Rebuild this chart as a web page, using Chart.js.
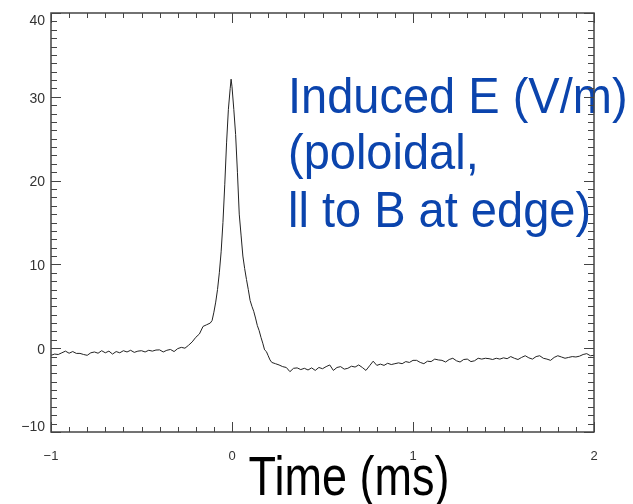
<!DOCTYPE html>
<html>
<head>
<meta charset="utf-8">
<script src="https://cdn.jsdelivr.net/npm/chart.js@4/dist/chart.umd.min.js"></script>
<style>
  html, body { margin: 0; padding: 0; background: #fff; }
  #wrap { width: 633px; height: 504px; }
</style>
</head>
<body>
<div id="wrap"><canvas id="chart" width="633" height="504"></canvas></div>
<script>
// time axis (ms) and induced field (V/m)
const times = [
  -1.00, -0.98, -0.96, -0.94, -0.92, -0.90, -0.88, -0.86, -0.84, -0.82,
  -0.80, -0.78, -0.76, -0.74, -0.72, -0.70, -0.68, -0.66, -0.64, -0.62,
  -0.60, -0.58, -0.56, -0.54, -0.52, -0.50, -0.48, -0.46, -0.44, -0.42,
  -0.40, -0.38, -0.36, -0.34, -0.32, -0.30, -0.28, -0.26, -0.24, -0.22,
  -0.20, -0.18, -0.16, -0.14, -0.12, -0.11, -0.10, -0.09, -0.08, -0.07,
  -0.06, -0.05, -0.04, -0.03, -0.02, -0.01, -0.005, 0.00, 0.01, 0.02,
  0.03, 0.04, 0.05, 0.06, 0.07, 0.08, 0.09, 0.10, 0.11, 0.12,
  0.13, 0.14, 0.15, 0.16, 0.17, 0.18, 0.19, 0.20, 0.21, 0.22,
  0.24, 0.26, 0.28, 0.30, 0.32, 0.34, 0.36, 0.38, 0.40, 0.42,
  0.44, 0.46, 0.48, 0.50, 0.52, 0.54, 0.56, 0.58, 0.60, 0.62,
  0.64, 0.66, 0.68, 0.70, 0.72, 0.74, 0.76, 0.78, 0.80, 0.82,
  0.84, 0.86, 0.88, 0.90, 0.92, 0.94, 0.96, 0.98, 1.00, 1.02,
  1.04, 1.06, 1.08, 1.10, 1.12, 1.14, 1.16, 1.18, 1.20, 1.22,
  1.24, 1.26, 1.28, 1.30, 1.32, 1.34, 1.36, 1.38, 1.40, 1.42,
  1.44, 1.46, 1.48, 1.50, 1.52, 1.54, 1.56, 1.58, 1.60, 1.62,
  1.64, 1.66, 1.68, 1.70, 1.72, 1.74, 1.76, 1.78, 1.80, 1.82,
  1.84, 1.86, 1.88, 1.90, 1.92, 1.94, 1.96, 1.98, 2.00
];
const eField = [
  -0.85, -0.70, -0.75, -0.55, -0.35, -0.60, -0.40, -0.62, -0.62, -0.75,
  -0.85, -0.55, -0.45, -0.60, -0.30, -0.55, -0.35, -0.70, -0.40, -0.55,
  -0.30, -0.45, -0.25, -0.50, -0.35, -0.30, -0.45, -0.25, -0.35, -0.22,
  -0.20, -0.45, -0.25, -0.15, -0.40, -0.05, 0.10, 0.00, 0.35, 0.75,
  1.30, 1.70, 2.60, 2.80, 3.00, 3.30, 4.30, 5.50, 7.00, 9.00,
  11.5, 15.0, 19.5, 24.5, 28.5, 31.0, 32.1, 31.2, 28.5, 25.5,
  21.0, 16.0, 13.5, 11.0, 9.5, 8.2, 7.0, 5.7, 5.0, 4.4,
  3.6, 2.7, 2.1, 1.3, 0.6, -0.2, -0.4, -0.9, -1.4, -1.7,
  -1.85, -2.0, -2.2, -2.3, -2.8, -2.4, -2.35, -2.55, -2.4, -2.6,
  -2.35, -2.65, -2.3, -2.45, -2.2, -2.0, -2.65, -2.3, -2.2, -2.5,
  -2.4, -2.15, -2.25, -2.0, -2.3, -2.65, -2.1, -1.55, -2.05, -1.9,
  -2.05, -1.8, -1.95, -1.85, -1.75, -1.85, -1.6, -1.7, -1.45, -1.45,
  -1.7, -1.85, -1.55, -1.6, -1.3, -1.4, -1.45, -1.65, -1.35, -1.2,
  -1.5, -1.65, -1.35, -1.3, -1.6, -1.5, -1.2, -1.3, -1.2, -1.25,
  -1.35, -1.2, -1.3, -1.15, -1.25, -1.0, -1.2, -1.35, -1.1, -0.9,
  -1.15, -1.3, -1.0, -0.9, -1.2, -1.3, -1.45, -1.1, -0.9, -1.05,
  -1.2, -1.1, -1.0, -1.05, -0.95, -0.75, -0.65, -0.9, -0.85
];

const xTicks = [-1, 0, 1, 2];
const xTickLabels = ['\u22121', '0', '1', '2'];
const yTicks = [-10, 0, 10, 20, 30, 40];
const yTickLabels = ['\u221210', '0', '10', '20', '30', '40'];
const annotationLines = ['Induced E (V/m)', '(poloidal,', 'll to B at edge)'];
const xTitle = 'Time (ms)';

const FONT = '"Liberation Sans", Arial, Helvetica, sans-serif';
const AXIS_COLOR = '#444';

// blue annotation, drawn under the frame
const annotationPlugin = {
  id: 'annotation',
  beforeDatasetsDraw(chart) {
    const ctx = chart.ctx;
    ctx.save();
    ctx.fillStyle = '#0b44ad';
    ctx.font = `47px ${FONT}`;
    ctx.textBaseline = 'alphabetic';
    const baselines = [113, 169, 227];
    annotationLines.forEach((line, i) => {
      ctx.save();
      ctx.translate(288, baselines[i]);
      ctx.scale(1, 1.08);
      ctx.fillText(line, 0, 0);
      ctx.restore();
    });
    ctx.restore();
  }
};

// IDL-style frame with inward major/minor ticks on all four sides
const framePlugin = {
  id: 'frame',
  afterDatasetsDraw(chart) {
    const ctx = chart.ctx;
    const { left, right, top, bottom } = chart.chartArea;
    const xs = chart.scales.x, ys = chart.scales.y;
    ctx.save();
    ctx.strokeStyle = AXIS_COLOR;
    ctx.lineWidth = 1.5;
    ctx.strokeRect(left, top, right - left, bottom - top);

    ctx.lineWidth = 1;
    ctx.beginPath();
    for (let v = -10; v <= 40; v += 1) {
      const y = Math.round(ys.getPixelForValue(v)) + 0.5;
      const len = v % 10 === 0 ? 10 : 6;
      ctx.moveTo(left, y); ctx.lineTo(left + len, y);
      ctx.moveTo(right, y); ctx.lineTo(right - len, y);
    }
    for (let i = -10; i <= 20; i++) {
      const x = Math.round(xs.getPixelForValue(i / 10)) + 0.5;
      const len = i % 10 === 0 ? 10 : 5;
      ctx.moveTo(x, bottom); ctx.lineTo(x, bottom - len);
      ctx.moveTo(x, top); ctx.lineTo(x, top + len);
    }
    ctx.stroke();

    ctx.fillStyle = '#333';
    ctx.font = `14px ${FONT}`;
    ctx.textAlign = 'right';
    ctx.textBaseline = 'middle';
    yTicks.forEach((v, i) => {
      let y = ys.getPixelForValue(v) + 2;
      if (v === 40) y += 6;
      if (v === -10) y -= 7;
      ctx.fillText(yTickLabels[i], 45, y);
    });

    ctx.font = `13px ${FONT}`;
    ctx.textAlign = 'center';
    xTicks.forEach((v, i) => {
      ctx.fillText(xTickLabels[i], xs.getPixelForValue(v), 456);
    });

    ctx.fillStyle = '#000';
    ctx.font = `45px ${FONT}`;
    ctx.textBaseline = 'alphabetic';
    ctx.translate(349, 495);
    ctx.scale(1, 1.22);
    ctx.fillText(xTitle, 0, 0);
    ctx.restore();
  }
};

const ctx = document.getElementById('chart').getContext('2d');
new Chart(ctx, {
  type: 'line',
  data: {
    datasets: [{
      data: times.map((t, i) => ({ x: t, y: eField[i] })),
      borderColor: '#222',
      borderWidth: 1,
      pointRadius: 0,
      tension: 0,
      fill: false
    }]
  },
  options: {
    responsive: false,
    devicePixelRatio: 1,
    animation: false,
    layout: { padding: { left: 51, right: 39, top: 13, bottom: 72 } },
    plugins: { legend: { display: false }, tooltip: { enabled: false } },
    scales: {
      x: { type: 'linear', min: -1, max: 2, display: false },
      y: { type: 'linear', min: -10, max: 40, display: false }
    }
  },
  plugins: [annotationPlugin, framePlugin]
});
</script>
</body>
</html>
